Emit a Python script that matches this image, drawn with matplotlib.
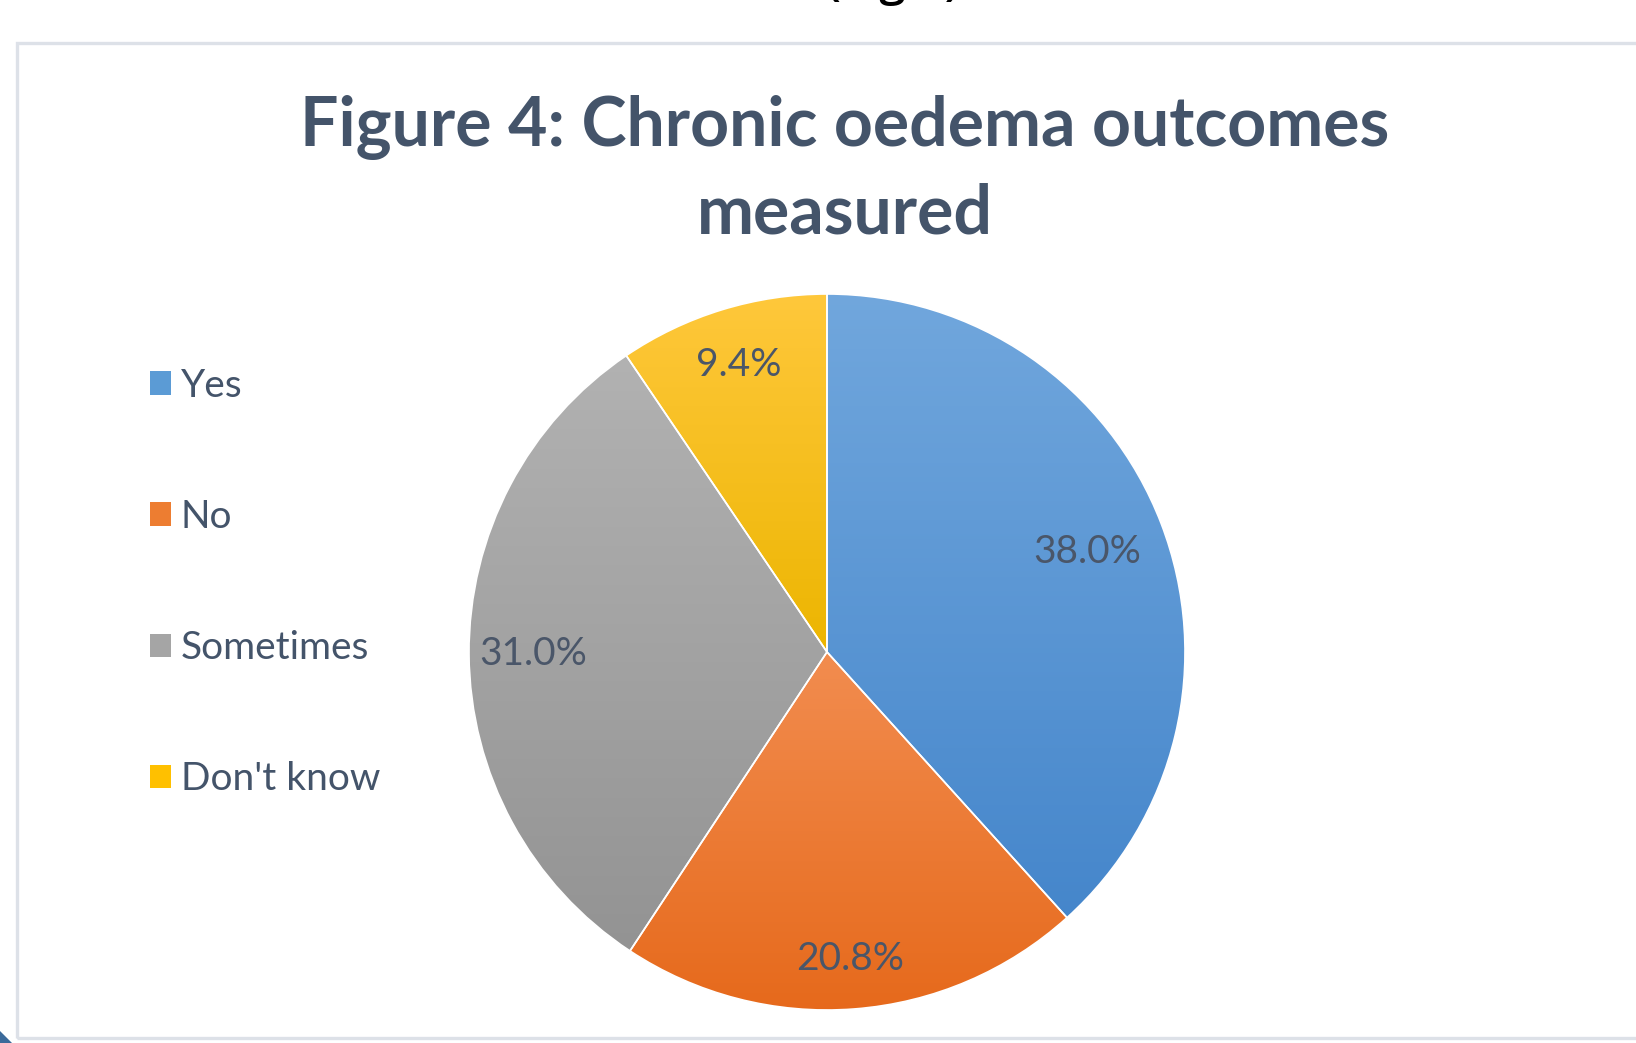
import numpy as np
import matplotlib
matplotlib.use("Agg")
import matplotlib.pyplot as plt
from matplotlib.patches import Rectangle, Polygon, Patch
from matplotlib.colors import LinearSegmentedColormap

# ---- data ----
categories = ["Yes", "No", "Sometimes", "Don't know"]
values = [38.0, 20.8, 31.0, 9.4]
pct_labels = ["38.0%", "20.8%", "31.0%", "9.4%"]
title = "Figure 4: Chronic oedema outcomes\nmeasured"

# ---- style ----
top_colors = ["#71a7dd", "#f28d50", "#b2b2b2", "#ffc83c"]
bot_colors = ["#4586cb", "#e6691b", "#939393", "#ecb500"]
mid_colors = ["#5b9bd5", "#ed7d31", "#a5a5a5", "#ffc000"]
text_color = "#44546a"
label_dist = [0.78, 0.86, 0.82, 0.84]

W, H = 1636, 1043
fig = plt.figure(figsize=(W / 100, H / 100), dpi=100)
fig.patch.set_facecolor("white")

# outer frame
fig.patches.append(Rectangle((16.5 / W, (H - 1038) / H), (W + 20) / W, (1038 - 43) / H,
                             transform=fig.transFigure, fill=False,
                             edgecolor="#dde1e8", linewidth=2.4, zorder=1))
# dark corner fragment
fig.patches.append(Polygon([[0, 0], [12 / W, 0], [0, 12 / H]], closed=True,
                           transform=fig.transFigure, facecolor="#3b6a9a",
                           edgecolor="none"))
# clipped text from page above
fig.text(893 / W, (H + 5) / H, "(Fig 4)", ha="center", va="baseline",
         fontsize=34, family="Open Sans", fontweight="semibold", color="black")

# pie axes
cx, cy, R = 827, H - 652, 358
s = 1.1
ax = fig.add_axes([(cx - s * R) / W, (cy - s * R) / H, 2 * s * R / W, 2 * s * R / H])
wedges, _ = ax.pie(values, startangle=90, counterclock=False, radius=1,
                   colors=mid_colors,
                   wedgeprops=dict(edgecolor="white", linewidth=1.2))
ax.set_aspect("equal")
ax.axis("off")

for i, w in enumerate(wedges):
    th = np.linspace(np.radians(w.theta1), np.radians(w.theta2), 200)
    xs = np.concatenate([[0], np.cos(th)])
    ys = np.concatenate([[0], np.sin(th)])
    y0, y1 = ys.min(), ys.max()
    x0, x1 = xs.min(), xs.max()
    cmap = LinearSegmentedColormap.from_list("g%d" % i, [bot_colors[i], top_colors[i]])
    grad = np.linspace(0, 1, 256).reshape(-1, 1)
    im = ax.imshow(grad, extent=[x0 - 0.01, x1 + 0.01, y0 - 0.01, y1 + 0.01],
                   origin="lower", cmap=cmap, aspect="auto", zorder=1.5)
    im.set_clip_path(w)
    w.set_facecolor("none")
    w.set_zorder(2)
    mid = np.radians((w.theta1 + w.theta2) / 2)
    ax.text(label_dist[i] * np.cos(mid), label_dist[i] * np.sin(mid), pct_labels[i],
            ha="center", va="center", fontsize=28, family="Lato",
            color="#4a5669", zorder=3)
ax.set_xlim(-s, s)
ax.set_ylim(-s, s)

# title
fig.text(845 / W, (H - 170) / H, title, ha="center", va="center",
         fontsize=49, fontweight="bold", family="Lato", color=text_color,
         linespacing=1.45, multialignment="center")

# legend
handles = [Patch(facecolor=c, edgecolor="none") for c in mid_colors]
leg = fig.legend(handles, categories, loc="upper left",
                 bbox_to_anchor=(134 / W, (H - 352) / H),
                 frameon=False, prop={"family": "Lato", "size": 28},
                 handlelength=0.55, handleheight=0.55, handletextpad=0.25,
                 labelspacing=2.45, borderaxespad=0)
for t in leg.get_texts():
    t.set_color(text_color)

fig.savefig("out.png", dpi=100, facecolor="white")
